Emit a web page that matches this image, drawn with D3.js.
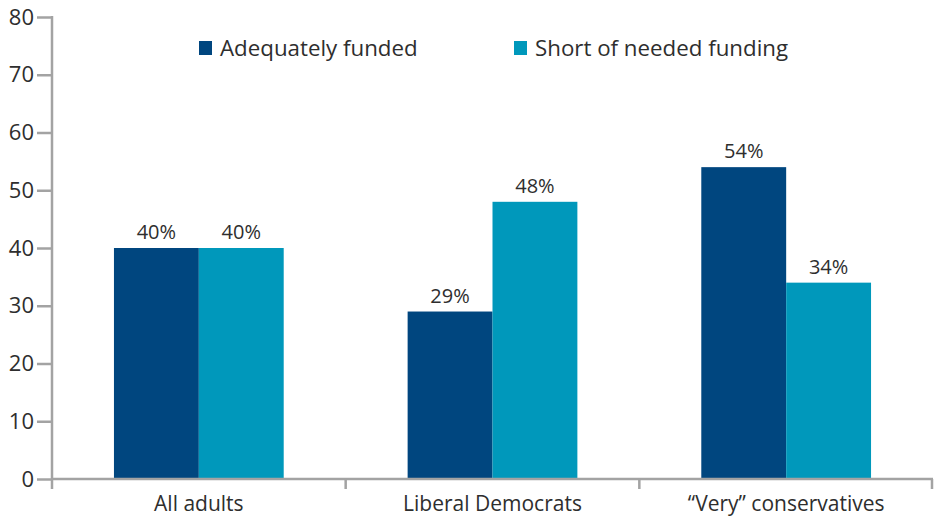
<!DOCTYPE html>
<html>
<head>
  <style>
    body { margin: 0; background: white; }
    text { font-family: "Open Sans", sans-serif; fill: #2e2e2e; }
  </style>
</head>
<body>
  <script src="https://d3js.org/d3.v7.min.js"></script>
  <script>
    var width = 934, height = 516;

    var categories = ["All adults", "Liberal Democrats", "\u201cVery\u201d conservatives"];
    var series = ["Adequately funded", "Short of needed funding"];
    var adequately = [40, 29, 54];
    var shortOf = [40, 48, 34];
    var yTicks = [0, 10, 20, 30, 40, 50, 60, 70, 80];
    var colors = ["#00467f", "#0098bb"];

    var margin = {top: 17, right: 1, bottom: 37, left: 52};

    var svg = d3.select("body").append("svg")
        .attr("width", width).attr("height", height);

    var x = d3.scaleBand()
        .domain(categories)
        .range([margin.left, width - margin.right]);

    var xInner = d3.scaleBand()
        .domain(series)
        .range([0, x.bandwidth()])
        .paddingOuter(0.73);

    var y = d3.scaleLinear()
        .domain([0, 80])
        .range([height - margin.bottom, margin.top]);

    var rows = categories.map((c, i) => ({cat: c, values: [adequately[i], shortOf[i]]}));

    var groups = svg.selectAll("g.cat")
        .data(rows)
      .enter().append("g")
        .attr("class", "cat")
        .attr("transform", d => "translate(" + x(d.cat) + ",0)");

    groups.selectAll("rect")
        .data(d => d.values.map((v, j) => ({s: series[j], v: v, j: j})))
      .enter().append("rect")
        .attr("x", d => xInner(d.s))
        .attr("width", xInner.bandwidth())
        .attr("y", d => y(d.v))
        .attr("height", d => y(0) - y(d.v))
        .attr("fill", d => colors[d.j]);

    groups.selectAll("text.val")
        .data(d => d.values.map((v, j) => ({s: series[j], v: v})))
      .enter().append("text")
        .attr("class", "val")
        .attr("x", d => xInner(d.s) + xInner.bandwidth() / 2)
        .attr("y", d => y(d.v) - 9)
        .attr("text-anchor", "middle")
        .style("font-size", "20px")
        .text(d => d.v + "%");

    // y axis
    var yAxis = svg.append("g")
        .attr("transform", "translate(" + margin.left + ",0)")
        .call(d3.axisLeft(y).tickValues(yTicks).tickSize(15).tickSizeOuter(0).tickPadding(3));
    yAxis.select(".domain").remove();
    yAxis.selectAll("line").attr("stroke", "#a3a3a3").attr("stroke-width", 2.5);
    yAxis.selectAll("text").style("font-size", "22px").attr("fill", "#2e2e2e");
    svg.append("line")
        .attr("x1", margin.left).attr("x2", margin.left)
        .attr("y1", y(80) - 1).attr("y2", y(0) + 10)
        .attr("stroke", "#a3a3a3").attr("stroke-width", 2.5);

    // x axis
    svg.append("line")
        .attr("x1", margin.left).attr("x2", width - margin.right)
        .attr("y1", y(0)).attr("y2", y(0))
        .attr("stroke", "#a3a3a3").attr("stroke-width", 2.5);
    var edges = categories.map(c => x(c)).concat([x.range()[1] - 1]);
    svg.selectAll("line.xt")
        .data(edges.slice(1))
      .enter().append("line")
        .attr("class", "xt")
        .attr("x1", d => d).attr("x2", d => d)
        .attr("y1", y(0)).attr("y2", y(0) + 10)
        .attr("stroke", "#a3a3a3").attr("stroke-width", 2.5);
    svg.selectAll("text.cat")
        .data(categories)
      .enter().append("text")
        .attr("class", "cat")
        .attr("x", d => x(d) + x.bandwidth() / 2)
        .attr("y", y(0) + 32)
        .attr("text-anchor", "middle")
        .style("font-size", "21px")
        .text(d => d);

    // legend
    var legendX = [199, 514];
    var legend = svg.selectAll("g.legend")
        .data(series)
      .enter().append("g")
        .attr("class", "legend")
        .attr("transform", (d, i) => "translate(" + legendX[i] + ",41)");
    legend.append("rect")
        .attr("width", 13).attr("height", 14)
        .attr("fill", (d, i) => colors[i]);
    legend.append("text")
        .attr("x", 21).attr("y", 15)
        .style("font-size", "22.3px")
        .text(d => d);
  </script>
</body>
</html>
